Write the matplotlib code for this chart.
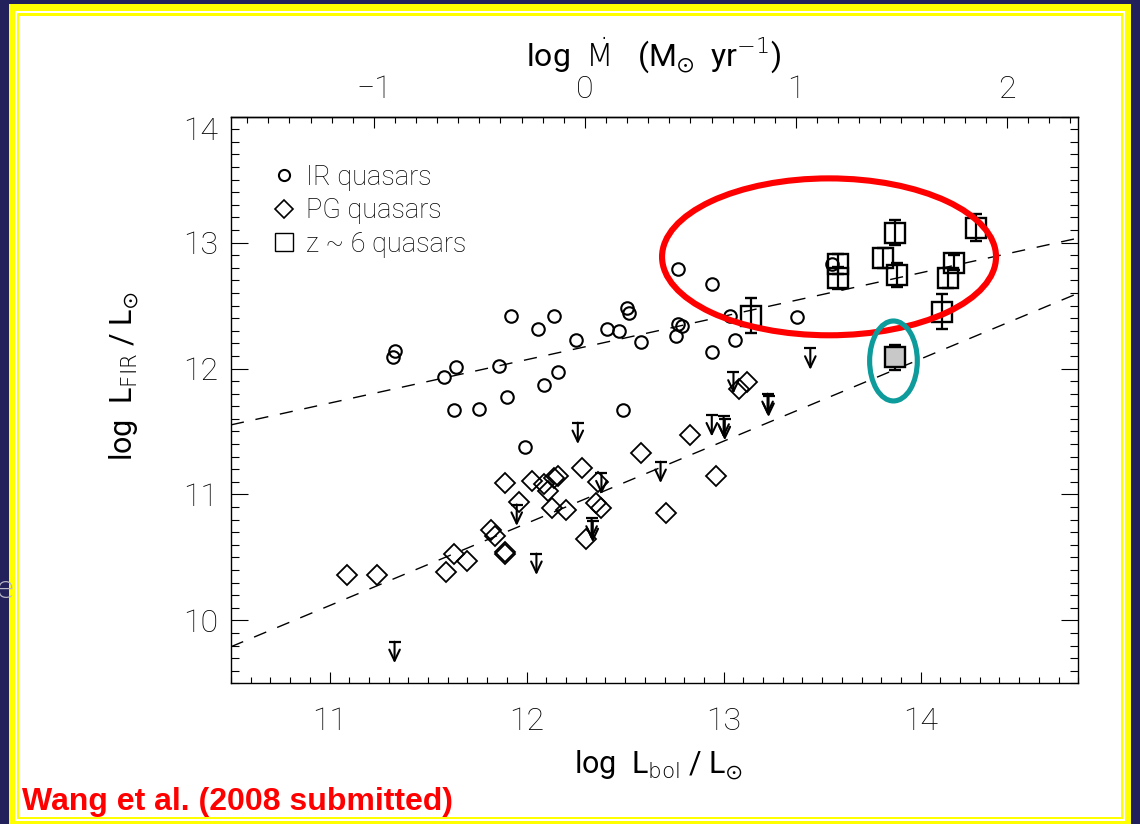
import matplotlib
matplotlib.use('Agg')
import matplotlib.pyplot as plt
from matplotlib.patches import Ellipse, Rectangle
from matplotlib.lines import Line2D
from matplotlib.ticker import MultipleLocator, FixedLocator
import numpy as np

plt.rcParams['font.family'] = ['Roboto', 'DejaVu Sans']
plt.rcParams['font.weight'] = 'light'
plt.rcParams['mathtext.fontset'] = 'dejavusans'

# IR-luminous quasars (log Lbol, log LFIR)
ir_lbol = [11.33, 11.32, 11.58, 11.64, 11.63, 11.76, 11.90, 11.86, 11.92, 12.06,
           12.14, 12.09, 12.16, 11.99, 12.25, 12.41, 12.47, 12.51, 12.52, 12.58,
           12.49, 12.77, 12.77, 12.79, 12.76, 12.94, 12.94, 13.03, 13.06, 13.55,
           13.37]
ir_lfir = [12.14, 12.09, 11.93, 12.01, 11.67, 11.68, 11.77, 12.02, 12.42, 12.31,
           12.42, 11.87, 11.97, 11.38, 12.23, 12.31, 12.30, 12.48, 12.44, 12.21,
           11.67, 12.79, 12.35, 12.34, 12.26, 12.67, 12.13, 12.42, 12.23, 12.83,
           12.41]

# PG quasars with FIR detections
pg_lbol = [11.09, 11.24, 11.59, 11.63, 11.70, 11.82, 11.84, 11.89, 11.89, 11.89,
           11.96, 12.03, 12.09, 12.11, 12.16, 12.14, 12.13, 12.20, 12.28, 12.36,
           12.35, 12.38, 12.30, 12.58, 12.83, 12.71, 12.96, 13.12, 13.08]
pg_lfir = [10.36, 10.36, 10.38, 10.53, 10.47, 10.72, 10.67, 10.54, 10.53, 11.09,
           10.94, 11.11, 11.08, 11.03, 11.15, 11.13, 10.89, 10.88, 11.21, 11.10,
           10.93, 10.89, 10.65, 11.33, 11.47, 10.85, 11.15, 11.89, 11.84]

# PG quasars with FIR upper limits
lim_lbol = [11.33, 12.26, 11.95, 12.05, 12.38, 12.33, 12.336, 12.68, 12.94, 13.00,
            13.006, 13.05, 13.223, 13.228, 13.44]
lim_lfir = [9.83, 11.57, 10.92, 10.53, 11.17, 10.81, 10.79, 11.26, 11.63, 11.62,
            11.60, 11.97, 11.80, 11.785, 12.16]

# z ~ 6 quasars detected at 1.2 mm
z6_lbol = [13.87, 13.81, 13.88, 13.58, 13.58, 14.17, 14.14, 14.11, 14.28, 13.14]
z6_lfir = [13.08, 12.88, 12.74, 12.83, 12.72, 12.84, 12.72, 12.45, 13.12, 12.42]
z6_err = [0.10, 0.08, 0.095, 0.08, 0.085, 0.06, 0.08, 0.14, 0.11, 0.14]

# z ~ 6 quasar shown as a filled symbol
z6g_lbol = [13.87]
z6g_lfir = [12.09]
z6g_err = [0.10]

# linear fits: log LFIR = a + b * (log Lbol - 12)
fit_ir = (12.07, 0.345)
fit_pg = (10.77, 0.653)

# accretion-rate scale on the top axis
mdot_zero_lbol = 12.296
lbol_per_dex = 1.071
mdot_ticks = [-1, 0, 1, 2]

W, H = 1140, 824
fig = plt.figure(figsize=(W / 100, H / 100), dpi=100)
fig.patch.set_facecolor('#22215c')


def frame(x0, y0, x1, y1, color):
    fig.add_artist(Rectangle((x0 / W, 1 - y1 / H), (x1 - x0) / W, (y1 - y0) / H,
                             transform=fig.transFigure, facecolor=color,
                             edgecolor='none', zorder=-10))


frame(9, 4, 1131, 830, '#ffff00')
frame(15, 11, 1125, 821, 'white')
frame(16.7, 13.3, 1123.3, 819.3, '#ffff00')
frame(19, 16, 1121, 816.7, 'white')

ax = fig.add_axes([231 / W, 1 - 683.3 / H, 847.3 / W, 566.6 / H])
ax.set_xlim(10.5, 14.8)
ax.set_ylim(9.5, 14.0)

xx = np.array([10.5, 14.8])
for a, b in (fit_ir, fit_pg):
    ax.plot(xx, a + b * (xx - 12), color='k', lw=1.0, ls=(0, (9.5, 8.5)), zorder=1)

ax.plot(ir_lbol, ir_lfir, 'o', ls='none', ms=9, mfc='none', mec='k', mew=1.5, zorder=3)
ax.plot(pg_lbol, pg_lfir, 'D', ls='none', ms=9.7, mfc='none', mec='k', mew=1.3, zorder=3)

# upper limits: cap at the limit with an arrow pointing down
ax.plot(lim_lbol, lim_lfir, '_', ls='none', ms=8, mew=1.6, color='k', zorder=4)
for lb, lf in zip(lim_lbol, lim_lfir):
    ax.annotate('', xy=(lb, lf - 0.17), xytext=(lb, lf),
                arrowprops=dict(arrowstyle='->, head_length=0.8, head_width=0.38',
                                lw=1.5, color='k', shrinkA=0, shrinkB=0,
                                mutation_scale=10), zorder=4)

ax.errorbar(z6_lbol, z6_lfir, yerr=z6_err, fmt='s', ms=14.5, mfc='none', mec='k',
            mew=1.7, ecolor='k', elinewidth=1.6, capsize=4.5, capthick=1.6, zorder=5)
ax.errorbar(z6g_lbol, z6g_lfir, yerr=z6g_err, fmt='s', ms=14.5, mfc='#c8c8c8', mec='k',
            mew=1.7, ecolor='k', elinewidth=1.6, capsize=4.5, capthick=1.6, zorder=5)

# highlight rings
ax.add_patch(Ellipse((13.535, 12.887), 1.695, 1.246, fill=False, ec='#ff0000',
                     lw=4.4, zorder=6))
ax.add_patch(Ellipse((13.862, 12.06), 0.242, 0.635, fill=False, ec='#0e9b9b',
                     lw=3.7, zorder=6))

# axes and ticks
for s in ax.spines.values():
    s.set_linewidth(1.0)
ax.xaxis.set_major_locator(MultipleLocator(1))
ax.xaxis.set_minor_locator(MultipleLocator(0.1))
ax.yaxis.set_major_locator(FixedLocator([10, 11, 12, 13, 14]))
ax.yaxis.set_minor_locator(MultipleLocator(0.1))
ax.tick_params(axis='x', which='both', direction='in', top=False, width=0.8,
               labelsize=23, pad=17)
ax.tick_params(axis='x', which='major', length=7.9)
ax.tick_params(axis='x', which='minor', length=4)
ax.tick_params(axis='y', which='both', direction='in', left=True, right=True,
               width=0.8, labelsize=23, pad=9)
ax.tick_params(axis='y', which='major', length=12.2)
ax.tick_params(axis='y', which='minor', length=5.8)
ax.yaxis.get_major_ticks()[-1].label1.set_va('top')

secax = ax.secondary_xaxis('top', functions=(
    lambda l: (l - mdot_zero_lbol) / lbol_per_dex,
    lambda m: m * lbol_per_dex + mdot_zero_lbol))
secax.xaxis.set_major_locator(FixedLocator(mdot_ticks))
secax.xaxis.set_minor_locator(MultipleLocator(0.1))
secax.tick_params(which='both', direction='in', width=0.8, labelsize=23, pad=9)
secax.tick_params(which='major', length=7.9)
secax.tick_params(which='minor', length=4)
secax.spines['top'].set_linewidth(1.0)

ax.set_xlabel(r'log  L$_{\mathrm{bol}}$ / L$_{\odot}$', fontsize=22)
ax.xaxis.set_label_coords(0.505, -0.115)
ax.set_ylabel(r'log  L$_{\mathrm{FIR}}$ / L$_{\odot}$', fontsize=22)
ax.yaxis.set_label_coords(-0.107, 0.542)
secax.set_xlabel(r'log  $\dot{\mathrm{M}}$   (M$_{\odot}$  yr$^{-1}$)', fontsize=23)
secax.xaxis.label.set_va('center')
secax.xaxis.set_label_coords(0.499, (683.3 - 55) / 566.6, transform=ax.transAxes)

handles = [
    Line2D([], [], marker='o', ls='none', ms=8, mfc='none', mec='k', mew=1.5),
    Line2D([], [], marker='D', ls='none', ms=9.5, mfc='none', mec='k', mew=1.2),
    Line2D([], [], marker='s', ls='none', ms=13, mfc='none', mec='k', mew=1.0),
]
ax.legend(handles, ['IR quasars', 'PG quasars', 'z ~ 6 quasars'], loc='upper left',
          bbox_to_anchor=(0.048, 0.917), frameon=False, fontsize=19.5,
          handlelength=0.9, handletextpad=0.35, labelspacing=0.24, borderpad=0,
          borderaxespad=0)

fig.text(22 / W, 1 - 810 / H, 'Wang et al. (2008 submitted)', color='#ff0000',
         fontsize=23, fontweight='bold', family='Liberation Sans', va='baseline')
fig.text(-4 / W, 1 - 598 / H, 'e', color='#b8b8c8', fontsize=22, family='DejaVu Sans',
         va='baseline')

fig.savefig('out.png', dpi=100, facecolor=fig.get_facecolor())
